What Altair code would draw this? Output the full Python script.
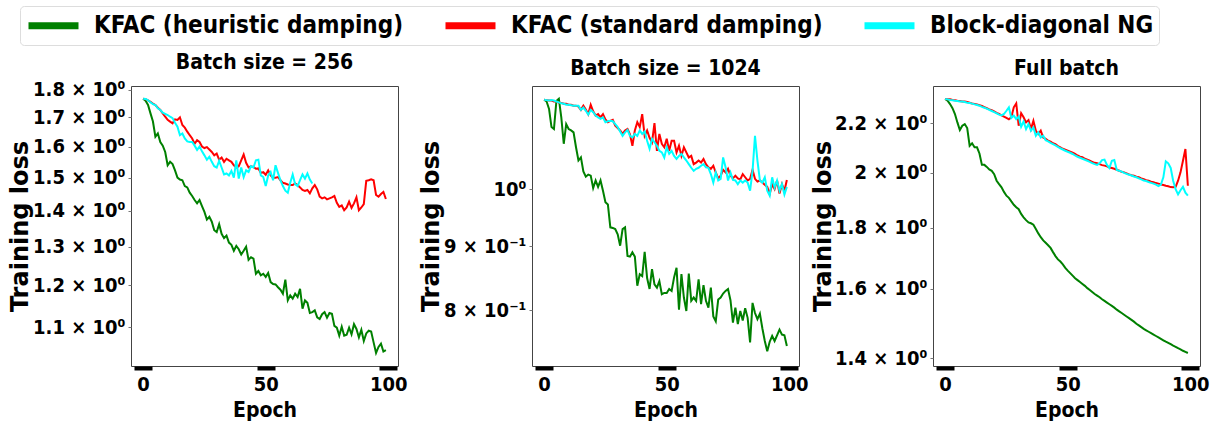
import altair as alt
import pandas as pd

METHODS = ["KFAC (heuristic damping)", "KFAC (standard damping)", "Block-diagonal NG"]
COLORS = ["#008000", "#ff0000", "#00ffff"]

FONT = "DejaVu Sans Condensed, DejaVu Sans"
YFONT = "DejaVu Sans"

# ---- Batch size = 256 ----
b256_heuristic = [
    1.767, 1.759, 1.744, 1.714, 1.685, 1.633, 1.644, 1.615, 1.603, 1.582,
    1.539, 1.550, 1.543, 1.523, 1.500, 1.494, 1.492, 1.474, 1.470, 1.454,
    1.444, 1.432, 1.422, 1.432, 1.414, 1.397, 1.375, 1.383, 1.369, 1.345,
    1.340, 1.362, 1.335, 1.323, 1.330, 1.311, 1.305, 1.289, 1.302, 1.293,
    1.279, 1.289, 1.300, 1.265, 1.272, 1.268, 1.229, 1.236, 1.225, 1.229,
    1.221, 1.231, 1.208, 1.203, 1.202, 1.195, 1.189, 1.179, 1.214, 1.163,
    1.175, 1.167, 1.179, 1.171, 1.191, 1.143, 1.163, 1.157, 1.133, 1.135,
    1.139, 1.123, 1.119, 1.130, 1.135, 1.122, 1.133, 1.131, 1.103, 1.099,
    1.081, 1.101, 1.081, 1.083, 1.099, 1.084, 1.107, 1.096, 1.077, 1.094,
    1.069, 1.086, 1.092, 1.090, 1.066, 1.043, 1.056, 1.063, 1.046, 1.049,
]
b256_standard = [
    1.767, 1.765, 1.761, 1.755, 1.749, 1.744, 1.734, 1.726, 1.714, 1.702,
    1.691, 1.685, 1.679, 1.693, 1.691, 1.700, 1.673, 1.664, 1.650, 1.638,
    1.627, 1.609, 1.621, 1.615, 1.600, 1.595, 1.598, 1.590, 1.582, 1.571,
    1.577, 1.557, 1.564, 1.550, 1.560, 1.555, 1.550, 1.539, 1.532, 1.536,
    1.555, 1.574, 1.547, 1.532, 1.536, 1.534, 1.528, 1.529, 1.515, 1.517,
    1.509, 1.523, 1.507, 1.500, 1.500, 1.502, 1.492, 1.484, 1.482, 1.479,
    1.477, 1.477, 1.482, 1.477, 1.470, 1.462, 1.459, 1.462, 1.452, 1.467,
    1.477, 1.464, 1.442, 1.437, 1.440, 1.434, 1.437, 1.440, 1.444, 1.424,
    1.412, 1.416, 1.402, 1.410, 1.427, 1.409, 1.422, 1.440, 1.402, 1.410,
    1.420, 1.490, 1.492, 1.495, 1.492, 1.447, 1.442, 1.450, 1.456, 1.435,
]
b256_blockng = [
    1.767, 1.766, 1.761, 1.754, 1.747, 1.744, 1.732, 1.726, 1.716, 1.712,
    1.708, 1.702, 1.697, 1.681, 1.667, 1.638, 1.644, 1.627, 1.617, 1.615,
    1.615, 1.603, 1.589, 1.600, 1.584, 1.571, 1.557, 1.566, 1.550, 1.536,
    1.532, 1.553, 1.532, 1.510, 1.513, 1.507, 1.521, 1.500, 1.555, 1.497,
    1.532, 1.502, 1.523, 1.518, 1.536, 1.532, 1.555, 1.557, 1.507, 1.502,
    1.474, 1.507, 1.518, 1.492, 1.539, 1.515, 1.492, 1.474, 1.460, 1.454,
    1.484, 1.510, 1.480, 1.474, 1.492, 1.510, 1.497, 1.513, 1.494, 1.482,
]

# ---- Batch size = 1024 ----
b1024_heuristic = [
    1.179, 1.175, 1.159, 1.121, 1.117, 1.176, 1.181, 1.141, 1.087, 1.127,
    1.117, 1.114, 1.110, 1.080, 1.054, 1.060, 1.033, 1.023, 1.027, 1.025,
    1.002, 1.016, 1.004, 1.016, 0.997, 0.976, 0.972, 0.932, 0.931, 0.929,
    0.920, 0.901, 0.929, 0.932, 0.884, 0.883, 0.890, 0.883, 0.837, 0.855,
    0.852, 0.891, 0.849, 0.832, 0.863, 0.839, 0.834, 0.844, 0.824, 0.826,
    0.826, 0.832, 0.829, 0.850, 0.865, 0.801, 0.855, 0.819, 0.799, 0.856,
    0.814, 0.819, 0.814, 0.847, 0.809, 0.838, 0.814, 0.804, 0.834, 0.791,
    0.784, 0.816, 0.819, 0.825, 0.829, 0.832, 0.815, 0.782, 0.804, 0.780,
    0.799, 0.785, 0.803, 0.789, 0.754, 0.811, 0.796, 0.787, 0.795, 0.774,
    0.756, 0.742, 0.755, 0.763, 0.756, 0.764, 0.772, 0.765, 0.764, 0.749,
]
b1024_standard = [
    1.179, 1.178, 1.177, 1.177, 1.175, 1.175, 1.173, 1.172, 1.170, 1.170,
    1.168, 1.168, 1.166, 1.166, 1.164, 1.157, 1.166, 1.158, 1.148, 1.168,
    1.154, 1.145, 1.148, 1.141, 1.148, 1.137, 1.131, 1.134, 1.136, 1.124,
    1.119, 1.114, 1.107, 1.114, 1.117, 1.106, 1.083, 1.114, 1.131, 1.121,
    1.148, 1.103, 1.114, 1.099, 1.090, 1.129, 1.073, 1.107, 1.087, 1.080,
    1.097, 1.073, 1.093, 1.093, 1.070, 1.083, 1.063, 1.080, 1.070, 1.060,
    1.063, 1.047, 1.050, 1.054, 1.050, 1.057, 1.047, 1.041, 1.038, 1.044,
    1.031, 1.020, 1.025, 1.036, 1.031, 1.038, 1.025, 1.020, 1.025, 1.020,
    1.018, 1.028, 1.022, 1.016, 1.019, 1.036, 1.019, 1.014, 1.016, 1.012,
    1.008, 1.004, 0.991, 1.009, 1.000, 1.016, 0.992, 1.009, 0.997, 1.017,
]
b1024_blockng = [
    1.179, 1.178, 1.177, 1.178, 1.177, 1.175, 1.173, 1.171, 1.170, 1.168,
    1.168, 1.167, 1.166, 1.166, 1.166, 1.157, 1.162, 1.155, 1.147, 1.157,
    1.152, 1.145, 1.141, 1.138, 1.141, 1.131, 1.133, 1.134, 1.133, 1.127,
    1.121, 1.112, 1.103, 1.110, 1.115, 1.103, 1.100, 1.107, 1.103, 1.114,
    1.107, 1.112, 1.093, 1.077, 1.097, 1.090, 1.083, 1.073, 1.070, 1.060,
    1.080, 1.067, 1.073, 1.063, 1.057, 1.063, 1.067, 1.060, 1.054, 1.047,
    1.040, 1.034, 1.038, 1.040, 1.044, 1.047, 1.041, 1.040, 1.028, 1.012,
    1.031, 1.016, 1.019, 1.060, 1.041, 1.016, 1.031, 1.017, 1.016, 1.009,
    1.016, 1.012, 1.016, 1.012, 0.997, 1.034, 1.103, 1.054, 1.016, 1.012,
    1.022, 0.997, 0.988, 1.022, 1.003, 1.016, 0.997, 1.009, 0.990, 1.004,
]

# ---- Full batch ----
full_heuristic = [
    2.306, 2.298, 2.283, 2.265, 2.240, 2.204, 2.172, 2.190, 2.197, 2.180,
    2.107, 2.117, 2.101, 2.101, 2.076, 2.031, 2.031, 2.023, 2.013, 2.008,
    1.995, 1.970, 1.957, 1.945, 1.928, 1.914, 1.906, 1.893, 1.881, 1.872,
    1.865, 1.848, 1.836, 1.826, 1.818, 1.815, 1.810, 1.795, 1.780, 1.767,
    1.756, 1.748, 1.740, 1.731, 1.717, 1.704, 1.693, 1.686, 1.677, 1.666,
    1.657, 1.649, 1.641, 1.633, 1.627, 1.621, 1.615, 1.609, 1.602, 1.596,
    1.590, 1.584, 1.579, 1.574, 1.568, 1.563, 1.558, 1.553, 1.548, 1.543,
    1.537, 1.532, 1.527, 1.522, 1.517, 1.512, 1.507, 1.502, 1.496, 1.491,
    1.486, 1.481, 1.477, 1.473, 1.469, 1.465, 1.461, 1.457, 1.453, 1.449,
    1.445, 1.442, 1.438, 1.434, 1.431, 1.427, 1.424, 1.420, 1.417, 1.414,
]
full_standard = [
    2.306, 2.305, 2.304, 2.301, 2.300, 2.298, 2.297, 2.295, 2.294, 2.292,
    2.289, 2.286, 2.284, 2.281, 2.278, 2.275, 2.270, 2.265, 2.260, 2.256,
    2.251, 2.245, 2.240, 2.234, 2.229, 2.223, 2.217, 2.226, 2.269, 2.286,
    2.190, 2.243, 2.226, 2.204, 2.214, 2.176, 2.211, 2.169, 2.155, 2.169,
    2.141, 2.135, 2.128, 2.124, 2.117, 2.114, 2.106, 2.101, 2.095, 2.091,
    2.087, 2.083, 2.079, 2.074, 2.068, 2.063, 2.061, 2.055, 2.051, 2.047,
    2.043, 2.039, 2.037, 2.034, 2.030, 2.028, 2.025, 2.021, 2.019, 2.016,
    2.012, 2.008, 2.004, 2.002, 1.998, 1.994, 1.991, 1.989, 1.985, 1.983,
    1.979, 1.976, 1.972, 1.970, 1.966, 1.964, 1.961, 1.959, 1.956, 1.954,
    1.951, 1.949, 1.946, 1.945, 1.947, 1.970, 2.002, 2.047, 2.094, 1.951,
]
full_blockng = [
    2.306, 2.304, 2.301, 2.300, 2.298, 2.297, 2.295, 2.294, 2.292, 2.289,
    2.288, 2.285, 2.282, 2.279, 2.276, 2.271, 2.267, 2.263, 2.258, 2.253,
    2.248, 2.243, 2.237, 2.234, 2.240, 2.254, 2.269, 2.223, 2.233, 2.218,
    2.229, 2.186, 2.208, 2.176, 2.197, 2.169, 2.183, 2.148, 2.162, 2.141,
    2.148, 2.130, 2.125, 2.119, 2.114, 2.109, 2.103, 2.097, 2.092, 2.087,
    2.083, 2.079, 2.074, 2.068, 2.063, 2.059, 2.055, 2.051, 2.047, 2.043,
    2.038, 2.034, 2.031, 2.037, 2.050, 2.052, 2.031, 2.019, 2.047, 2.050,
    2.011, 2.008, 2.005, 2.000, 1.996, 1.993, 1.990, 1.986, 1.983, 1.979,
    1.975, 1.971, 1.969, 1.965, 1.962, 1.959, 1.955, 1.950, 1.955, 1.983,
    2.045, 2.037, 2.019, 1.970, 1.938, 1.919, 1.934, 1.947, 1.925, 1.914,
]

X_DOMAIN = [-4.95, 103.95]
X_TICKS = [0, 50, 100]

# wide, flat swatch for the legend: a stroked segment in symbol units
SWATCH = "M-1,0L3.545,0"


def make_frame(series):
    rows = []
    for method, values in zip(METHODS, series):
        for epoch, loss in enumerate(values):
            rows.append({"method": method, "epoch": epoch, "loss": loss})
    return pd.DataFrame(rows)


def panel(title, series, y_domain, y_ticks, label_expr, title_x):
    df = make_frame(series)
    x_enc = alt.X(
        "epoch:Q",
        scale=alt.Scale(domain=X_DOMAIN, nice=False, zero=False),
        axis=alt.Axis(
            values=X_TICKS, title="Epoch", format="d",
            tickWidth=18, tickSize=4, tickColor="black",
            labelPadding=4, titlePadding=5,
            labelFontSize=20, titleFontSize=21,
        ),
    )
    y_enc = alt.Y(
        "loss:Q",
        scale=alt.Scale(type="log", domain=y_domain, nice=False, zero=False),
        axis=alt.Axis(
            values=y_ticks, labelExpr=label_expr, title="Training loss",
            tickSize=3, tickColor="#777777", tickWidth=1, labelPadding=3,
            labelFontSize=20, titleFont=YFONT, titleFontSize=24,
            titleX=title_x, titleBaseline="middle",
        ),
    )
    color_enc = alt.Color(
        "method:N",
        scale=alt.Scale(domain=METHODS, range=COLORS),
        title=None,
        legend=alt.Legend(
            orient="none", legendX=-111, legendY=-80, direction="horizontal",
            symbolType=SWATCH, symbolSize=484, symbolStrokeWidth=7,
            labelFont=FONT, labelFontWeight="bold", labelFontSize=24,
            labelColor="black", labelLimit=500, labelOffset=40,
            columnPadding=27, padding=5, cornerRadius=4,
            strokeColor="#dddddd", fillColor="white",
        ),
    )
    base = alt.Chart(df)
    layers = [
        base.transform_filter(alt.datum.method == m)
        .mark_line(strokeWidth=2)
        .encode(x=x_enc, y=y_enc, color=color_enc)
        for m in METHODS
    ]
    return alt.layer(*layers).properties(
        width=267, height=280,
        title=alt.Title(title, font=FONT, fontWeight="bold", fontSize=21,
                        offset=7, anchor="middle", color="black"),
    )


p256 = panel(
    "Batch size = 256",
    [b256_heuristic, b256_standard, b256_blockng],
    [1.015, 1.814],
    [1.1, 1.2, 1.3, 1.4, 1.5, 1.6, 1.7, 1.8],
    "format(datum.value, '.1f') + ' × 10⁰'",
    -111,
)
p1024 = panel(
    "Batch size = 1024",
    [b1024_heuristic, b1024_standard, b1024_blockng],
    [0.722, 1.209],
    [0.8, 0.9, 1.0],
    "datum.value == 1 ? '10⁰' : format(datum.value * 10, '.0f') + ' × 10⁻¹'",
    -101,
)
pfull = panel(
    "Full batch",
    [full_heuristic, full_standard, full_blockng],
    [1.379, 2.364],
    [1.4, 1.6, 1.8, 2.0, 2.2],
    "datum.value == 2 ? '2 × 10⁰' : format(datum.value, '.1f') + ' × 10⁰'",
    -110,
)

chart = (
    alt.hconcat(p256, p1024, pfull, spacing=134, bounds="flush")
    .resolve_scale(x="independent", y="independent", color="shared")
    .properties(padding={"left": 7, "top": 5, "right": 5, "bottom": 5},
                background="white")
    .configure_view(stroke="#444444", strokeWidth=1)
    .configure_axis(
        labelFont=FONT, labelFontWeight="bold", labelColor="black",
        titleFont=FONT, titleFontWeight="bold", titleColor="black",
        grid=False, domain=False,
    )
)

chart.save("out.html", embed_options={"renderer": "svg", "actions": False})
